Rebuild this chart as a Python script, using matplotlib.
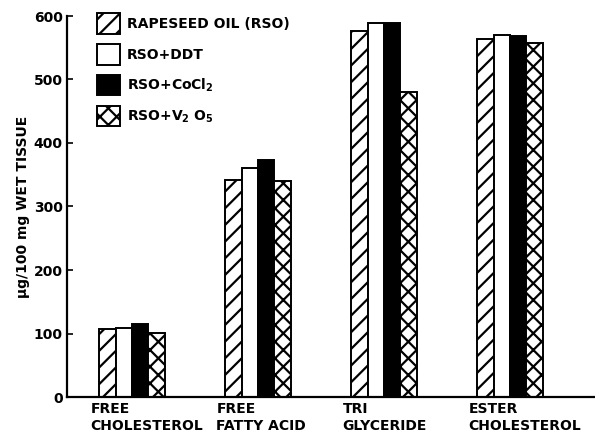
import numpy as np
import matplotlib.pyplot as plt
from matplotlib.patches import Patch

plt.rcParams["font.family"] = "DejaVu Sans"
plt.rcParams["font.weight"] = "bold"
plt.rcParams["hatch.linewidth"] = 1.6

categories = ["FREE\nCHOLESTEROL", "FREE\nFATTY ACID", "TRI\nGLYCERIDE", "ESTER\nCHOLESTEROL"]
series = ["RAPESEED OIL (RSO)", "RSO+DDT", "RSO+CoCl$_2$", "RSO+V$_2$ O$_5$"]
rso = [107, 342, 577, 564]
rso_ddt = [109, 360, 589, 570]
rso_cocl2 = [115, 373, 589, 568]
rso_v2o5 = [101, 340, 480, 557]

values = [rso, rso_ddt, rso_cocl2, rso_v2o5]
styles = [
    dict(facecolor="white", hatch="//"),
    dict(facecolor="white", hatch=None),
    dict(facecolor="black", hatch=None),
    dict(facecolor="white", hatch="xx"),
]

fig = plt.figure(figsize=(5.95, 4.36), dpi=100)
ax = fig.add_axes([67 / 595, 39 / 436, 528 / 595, 381 / 436])

x = np.arange(len(categories))
width = 0.13
for i, (vals, st) in enumerate(zip(values, styles)):
    ax.bar(x + (i - 1.5) * width, vals, width, edgecolor="black",
           linewidth=1.4, **st)

ax.set_xlim(-0.516, 3.675)
ax.set_ylim(0, 600)
ax.set_yticks(range(0, 601, 100))
ax.tick_params(axis="y", direction="in", length=4, width=1.2, labelsize=10, pad=3)
ax.set_xticks([])
for side in ("top", "right"):
    ax.spines[side].set_visible(False)
for side in ("left", "bottom"):
    ax.spines[side].set_linewidth(1.6)

ax.set_ylabel("\u03bcg/100 mg WET TISSUE", fontsize=10, fontweight="bold", labelpad=3)

# category labels, left aligned under each group
for xi, name in zip(x, categories):
    ax.text(xi - 2 * width - 0.07, -8, name, ha="left", va="top",
            fontsize=10, linespacing=1.3, transform=ax.transData)

handles = [Patch(edgecolor="black", linewidth=1.4, **st) for st in styles]
fig.legend(handles, series, loc="upper left",
           bbox_to_anchor=(97 / 595, 1 - 13 / 436), bbox_transform=fig.transFigure,
           frameon=False, fontsize=10, handlelength=1.65, handleheight=1.9,
           labelspacing=0.75, handletextpad=0.5, borderpad=0, borderaxespad=0)

fig.savefig("out.png", dpi=100)
